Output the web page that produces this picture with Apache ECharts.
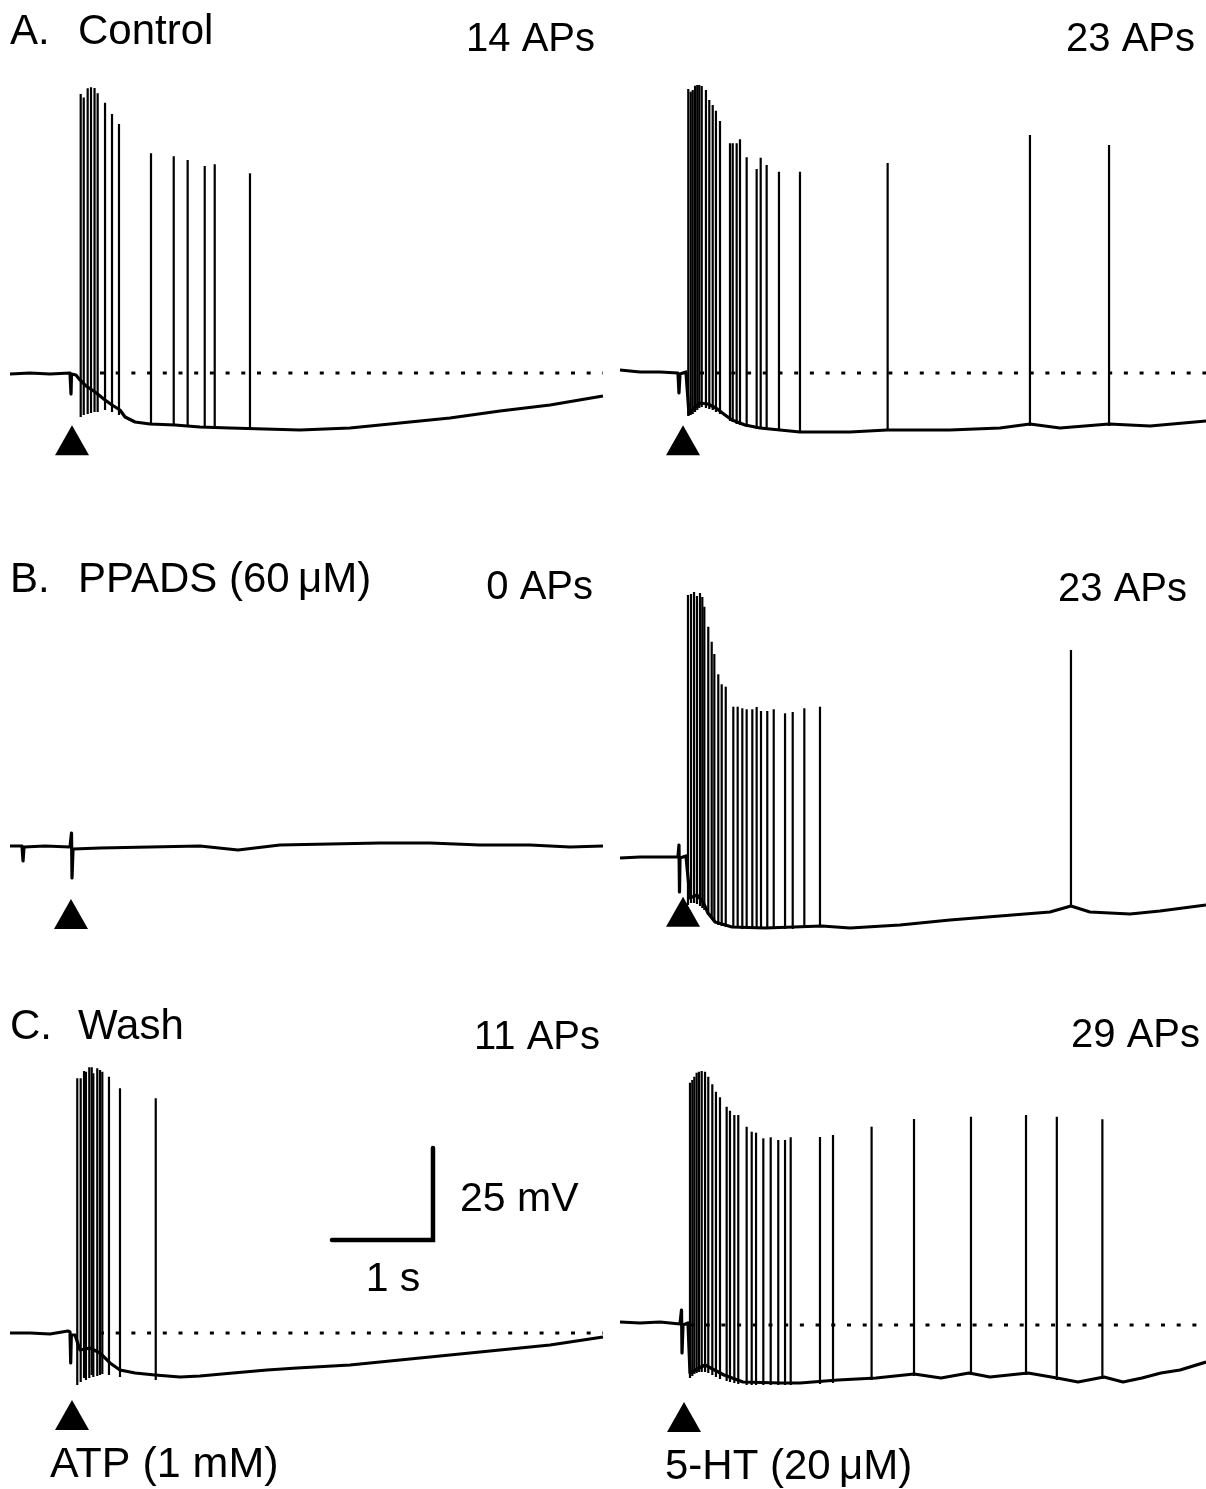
<!DOCTYPE html>
<html>
<head>
<meta charset="utf-8">
<title>ATP / 5-HT evoked firing</title>
<script src="https://cdn.jsdelivr.net/npm/echarts@6/dist/echarts.min.js"></script>
<style>
  html, body { margin: 0; padding: 0; background: #fff; }
  #chart { width: 1206px; height: 1489px; }
</style>
</head>
<body>
<div id="chart"></div>
<script>
// time in s, membrane potential in mV relative to resting level (0 = dotted line)

// ---- A. Control, ATP ----
const aAtpTraceT = [0.000, 0.198, 0.396, 0.594, 0.599, 0.604, 0.609, 0.653, 0.693, 0.752, 0.842, 0.941, 1.010, 1.089, 1.139, 1.238, 1.386, 1.634, 1.881, 2.178, 2.525, 2.871, 3.366, 3.861, 4.356, 4.851, 5.347, 5.871];
const aAtpTraceV = [-0.27, 0.00, -0.27, 0.00, 0.00, -5.71, -0.27, -0.54, -1.90, -3.53, -5.16, -7.34, -8.70, -10.05, -11.96, -13.32, -13.86, -14.13, -14.67, -14.95, -15.22, -15.49, -14.95, -13.59, -12.23, -10.33, -8.70, -6.25];
const aAtpSpikeT = [0.700, 0.730, 0.769, 0.802, 0.837, 0.868, 0.941, 1.010, 1.079, 1.396, 1.621, 1.759, 1.928, 2.027, 2.376];
const aAtpSpikePeak = [75.82, 74.86, 77.36, 77.64, 77.45, 76.01, 73.45, 70.38, 67.66, 59.70, 58.89, 57.88, 56.25, 56.71, 54.27];
const aAtpSpikeTrough = [-11.96, -11.41, -11.14, -10.87, -10.60, -10.60, -10.05, -10.60, -11.41, -13.86, -14.13, -14.13, -14.40, -14.40, -14.95];

// ---- A. Control, 5-HT ----
const aHtTraceT = [0.000, 0.198, 0.396, 0.574, 0.584, 0.594, 0.653, 0.683, 0.733, 0.792, 0.871, 0.950, 1.040, 1.109, 1.238, 1.386, 1.584, 1.782, 2.277, 2.644, 2.772, 3.267, 3.762, 4.059, 4.356, 4.842, 5.248, 5.802];
const aHtTraceV = [0.82, 0.27, 0.27, 0.00, -5.43, -0.27, 0.27, -11.14, -9.51, -8.15, -8.42, -9.51, -11.41, -12.77, -14.13, -14.95, -15.49, -16.03, -16.03, -15.49, -15.49, -15.49, -14.95, -13.86, -14.95, -13.86, -14.40, -13.04];
const aHtSpikeT = [0.676, 0.700, 0.720, 0.743, 0.765, 0.785, 0.809, 0.851, 0.884, 0.918, 0.950, 0.990, 1.089, 1.116, 1.155, 1.188, 1.254, 1.353, 1.393, 1.452, 1.574, 1.782, 2.650, 4.059, 4.842];
const aHtSpikePeak = [77.17, 76.44, 76.90, 78.07, 78.26, 78.26, 77.99, 76.90, 74.18, 72.83, 71.28, 68.48, 62.42, 62.42, 62.42, 63.51, 58.61, 55.43, 58.51, 56.52, 54.70, 54.70, 57.07, 64.67, 61.96];
const aHtSpikeTrough = [-11.68, -11.41, -11.14, -10.60, -10.05, -9.51, -9.24, -9.51, -9.78, -10.05, -10.60, -11.14, -13.04, -13.32, -13.86, -14.13, -14.67, -15.22, -15.22, -15.49, -15.76, -16.30, -15.76, -14.40, -14.40];

// ---- B. PPADS, ATP ----
const bAtpTraceT = [0.000, 0.119, 0.129, 0.139, 0.347, 0.594, 0.609, 0.614, 0.624, 0.891, 1.386, 1.881, 2.257, 2.673, 3.168, 3.663, 4.158, 4.653, 5.149, 5.545, 5.871];
const bAtpTraceV = [0.00, 0.00, -4.08, -0.27, 0.00, -0.27, 3.53, -8.70, -0.82, -0.54, -0.27, 0.00, -1.09, 0.27, 0.54, 0.82, 0.82, 0.27, 0.27, -0.27, 0.00];

// ---- B. PPADS, 5-HT ----
const bHtTraceT = [0.000, 0.198, 0.396, 0.574, 0.584, 0.589, 0.594, 0.653, 0.693, 0.762, 0.822, 0.871, 0.941, 1.109, 1.436, 2.000, 2.277, 2.772, 3.267, 3.762, 4.257, 4.465, 4.653, 5.050, 5.347, 5.802];
const bHtTraceV = [-0.27, 0.00, 0.00, 0.00, 3.26, -9.51, -0.27, 0.27, -11.14, -10.33, -12.23, -15.22, -17.66, -19.02, -19.29, -18.75, -19.29, -18.48, -17.12, -16.03, -14.95, -13.32, -14.95, -15.49, -14.67, -13.04];
const bHtSpikeT = [0.673, 0.703, 0.733, 0.762, 0.792, 0.815, 0.835, 0.874, 0.908, 0.934, 0.973, 1.007, 1.047, 1.122, 1.165, 1.211, 1.254, 1.310, 1.353, 1.396, 1.458, 1.522, 1.634, 1.710, 1.825, 1.980, 4.465];
const bHtSpikePeak = [71.20, 71.47, 72.01, 70.92, 71.74, 70.65, 68.02, 62.58, 58.51, 55.16, 49.65, 46.93, 46.28, 40.84, 40.84, 40.41, 40.14, 40.14, 40.76, 39.67, 39.67, 40.14, 39.05, 39.40, 40.41, 40.84, 56.25];
const bHtSpikeTrough = [-13.04, -12.50, -12.50, -12.77, -13.32, -13.86, -14.40, -15.76, -16.58, -17.66, -18.48, -18.75, -19.02, -19.29, -19.29, -19.57, -19.57, -19.57, -19.57, -19.57, -19.57, -19.57, -19.57, -19.57, -19.29, -19.02, -13.59];

// ---- C. Wash, ATP ----
const cAtpTraceT = [0.000, 0.198, 0.396, 0.574, 0.594, 0.601, 0.607, 0.644, 0.693, 0.792, 0.891, 0.990, 1.089, 1.238, 1.436, 1.683, 1.881, 2.208, 2.545, 2.842, 3.366, 3.861, 4.356, 4.851, 5.347, 5.871];
const cAtpTraceV = [0.00, 0.00, -0.27, 0.54, 0.27, -8.15, -0.54, -0.54, -4.62, -4.08, -5.43, -8.15, -10.05, -10.87, -11.41, -11.96, -11.68, -10.87, -10.05, -9.51, -8.70, -7.34, -5.98, -4.62, -3.26, -1.09];
const cAtpSpikeT = [0.666, 0.700, 0.733, 0.752, 0.785, 0.809, 0.825, 0.864, 0.891, 0.914, 0.980, 1.089, 1.443];
const cAtpSpikePeak = [69.21, 69.21, 71.20, 71.01, 72.20, 72.20, 70.57, 71.93, 71.47, 71.01, 69.65, 66.49, 63.78];
const cAtpSpikeTrough = [-14.13, -13.32, -12.23, -12.77, -12.23, -11.41, -11.96, -11.68, -11.41, -11.14, -11.41, -11.96, -12.77];

// ---- C. Wash, 5-HT ----
const cHtTraceT = [0.000, 0.198, 0.396, 0.594, 0.609, 0.614, 0.624, 0.673, 0.693, 0.842, 1.030, 1.218, 1.594, 1.782, 2.158, 2.535, 2.911, 3.178, 3.455, 3.663, 4.040, 4.327, 4.535, 4.792, 4.980, 5.168, 5.356, 5.545, 5.802];
const cHtTraceV = [0.82, 0.54, 0.82, 0.27, 4.08, -7.61, 0.00, 0.54, -13.04, -10.87, -13.59, -15.49, -15.76, -15.76, -14.95, -14.40, -13.32, -14.40, -13.04, -14.13, -13.04, -14.40, -15.49, -14.13, -15.49, -14.40, -13.04, -12.23, -10.05];
const cHtSpikeT = [0.693, 0.716, 0.736, 0.759, 0.782, 0.809, 0.842, 0.874, 0.914, 0.950, 0.990, 1.056, 1.089, 1.132, 1.171, 1.254, 1.304, 1.347, 1.419, 1.492, 1.567, 1.634, 1.690, 1.980, 2.109, 2.491, 2.911, 3.475, 4.020, 4.325, 4.776];
const cHtSpikePeak = [65.84, 66.58, 67.47, 68.56, 68.83, 69.02, 68.83, 67.47, 65.41, 63.40, 61.88, 59.32, 58.23, 57.07, 57.07, 53.89, 52.53, 52.26, 50.73, 51.01, 50.27, 50.27, 51.01, 51.09, 51.63, 53.89, 55.98, 56.60, 57.07, 56.60, 55.90];
const cHtSpikeTrough = [-14.40, -13.86, -13.32, -13.04, -12.77, -12.77, -12.77, -13.04, -13.59, -14.13, -14.67, -15.22, -15.49, -15.76, -16.03, -16.30, -16.30, -16.30, -16.30, -16.30, -16.30, -16.30, -16.30, -16.03, -15.76, -14.95, -13.86, -13.59, -13.59, -14.95, -14.67];

// resting-level reference (dotted) spans, [start, end] in s
const aAtpRest = [0.891, 5.871];
const aHtRest = [0.792, 5.802];
const cAtpRest = [0.891, 5.871];
const cHtRest = [0.693, 5.802];

// drug application marks [t, v]
const aAtpStim = [0.614, -18.3];
const aHtStim = [0.624, -18.3];
const bAtpStim = [0.604, -18.5];
const bHtStim = [0.624, -14.9];
const cAtpStim = [0.614, -22.3];
const cHtStim = [0.634, -25.0];

// scale bar: 1 s, 25 mV, corner origin in C. Wash/ATP units
const scaleOrigin = [3.188, 25.27];
const scaleTime = 1;
const scaleVolt = 25;

// AP counts
const apLabels = ['14 APs', '23 APs', '0 APs', '23 APs', '11 APs', '29 APs'];

const PX_PER_S = 101;
const PX_PER_MV = 3.68;
const V_MIN = -30;
const V_MAX = 80;
const FAMILY = '"Liberation Sans", Arial, Helvetica, sans-serif';

const zip = (a, b) => a.map((v, i) => [v, b[i]]);
const zip3 = (a, b, c) => a.map((v, i) => [v, b[i], c[i]]);

const panels = [
  { left: 10, width: 593, base: 373, trace: zip(aAtpTraceT, aAtpTraceV), spikes: zip3(aAtpSpikeT, aAtpSpikePeak, aAtpSpikeTrough), rest: aAtpRest, stim: aAtpStim },
  { left: 620, width: 586, base: 373, trace: zip(aHtTraceT, aHtTraceV), spikes: zip3(aHtSpikeT, aHtSpikePeak, aHtSpikeTrough), rest: aHtRest, stim: aHtStim },
  { left: 10, width: 593, base: 846, trace: zip(bAtpTraceT, bAtpTraceV), spikes: [], rest: null, stim: bAtpStim },
  { left: 620, width: 586, base: 857, trace: zip(bHtTraceT, bHtTraceV), spikes: zip3(bHtSpikeT, bHtSpikePeak, bHtSpikeTrough), rest: null, stim: bHtStim },
  { left: 10, width: 593, base: 1333, trace: zip(cAtpTraceT, cAtpTraceV), spikes: zip3(cAtpSpikeT, cAtpSpikePeak, cAtpSpikeTrough), rest: cAtpRest, stim: cAtpStim },
  { left: 620, width: 586, base: 1325, trace: zip(cHtTraceT, cHtTraceV), spikes: zip3(cHtSpikeT, cHtSpikePeak, cHtSpikeTrough), rest: cHtRest, stim: cHtStim },
];

const grid = [];
const xAxis = [];
const yAxis = [];
const series = [];

function spikeRender(params, api) {
  const top = api.coord([api.value(0), api.value(1)]);
  const bot = api.coord([api.value(0), api.value(2)]);
  return {
    type: 'line',
    shape: { x1: top[0], y1: top[1], x2: bot[0], y2: bot[1] },
    style: { stroke: '#000', lineWidth: 2.2 },
  };
}

panels.forEach((p, i) => {
  grid.push({
    left: p.left,
    top: p.base - V_MAX * PX_PER_MV,
    width: p.width,
    height: (V_MAX - V_MIN) * PX_PER_MV,
  });
  xAxis.push({ type: 'value', gridIndex: i, min: 0, max: p.width / PX_PER_S, show: false });
  yAxis.push({ type: 'value', gridIndex: i, min: V_MIN, max: V_MAX, show: false });

  if (p.rest) {
    series.push({
      type: 'line',
      xAxisIndex: i,
      yAxisIndex: i,
      data: [[p.rest[0], 0], [p.rest[1], 0]],
      showSymbol: false,
      silent: true,
      lineStyle: { color: '#000', width: 3, type: [4, 11.7] },
      z: 1,
    });
  }

  series.push({
    type: 'line',
    xAxisIndex: i,
    yAxisIndex: i,
    data: p.trace,
    showSymbol: false,
    clip: false,
    lineStyle: { color: '#000', width: 3.2, join: 'round' },
    z: 3,
  });

  if (p.spikes.length) {
    series.push({
      type: 'custom',
      xAxisIndex: i,
      yAxisIndex: i,
      data: p.spikes,
      encode: { x: 0, y: [1, 2] },
      renderItem: spikeRender,
      z: 4,
    });
  }

  series.push({
    type: 'scatter',
    xAxisIndex: i,
    yAxisIndex: i,
    data: [p.stim],
    symbol: 'triangle',
    symbolSize: [34, 30],
    itemStyle: { color: '#000', opacity: 1 },
    z: 5,
  });
});

// scale bar on the C. Wash / ATP axes
series.push({
  type: 'line',
  xAxisIndex: 4,
  yAxisIndex: 4,
  data: [
    [scaleOrigin[0], scaleOrigin[1]],
    [scaleOrigin[0] + scaleTime, scaleOrigin[1]],
    [scaleOrigin[0] + scaleTime, scaleOrigin[1] + scaleVolt],
  ],
  showSymbol: false,
  clip: false,
  lineStyle: { color: '#000', width: 4.5, cap: 'round', join: 'miter' },
  z: 5,
});

function label(text, x, y, size, align) {
  return {
    type: 'text',
    x: x,
    y: y,
    style: {
      text: text,
      font: size + 'px ' + FAMILY,
      fill: '#000',
      textAlign: align || 'left',
      align: align || 'left',
      textVerticalAlign: 'middle',
      verticalAlign: 'middle',
    },
  };
}

const graphic = [
  label('A.', 10, 32, 42),
  label('Control', 78, 32, 42),
  label(apLabels[0], 595, 40, 40, 'right'),
  label(apLabels[1], 1195, 40, 40, 'right'),
  label('B.', 10, 580, 42),
  label('PPADS (60\u2009\u03bcM)', 78, 580, 42),
  label(apLabels[2], 593, 588, 40, 'right'),
  label(apLabels[3], 1187, 590, 40, 'right'),
  label('C.', 10, 1027, 42),
  label('Wash', 78, 1027, 42),
  label(apLabels[4], 600, 1038, 40, 'right'),
  label(apLabels[5], 1200, 1036, 40, 'right'),
  label('25 mV', 460, 1200, 41),
  label('1 s', 393, 1280, 41, 'center'),
  label('ATP (1 mM)', 50, 1465, 43),
  label('5-HT (20\u2009\u03bcM)', 665, 1467, 42),
];

const chart = echarts.init(document.getElementById('chart'), null, { renderer: 'canvas' });
chart.setOption({
  backgroundColor: '#fff',
  animation: false,
  grid,
  xAxis,
  yAxis,
  series,
  graphic,
});
</script>
</body>
</html>
